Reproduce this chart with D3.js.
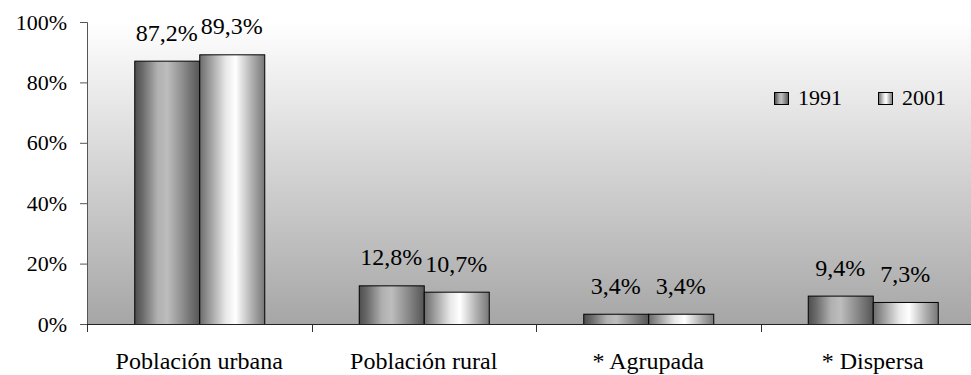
<!DOCTYPE html>
<html>
<head>
<meta charset="utf-8">
<script src="https://cdn.jsdelivr.net/npm/d3@7"></script>
<style>
  html, body { margin: 0; padding: 0; background: #fff; }
  svg { display: block; }
</style>
</head>
<body>
<svg id="chart" width="971" height="375"></svg>
<script>
// Población urbana / rural, 1991 y 2001 (porcentaje del total)
const categories = ["Población urbana", "Población rural", "* Agrupada", "* Dispersa"];
const series = ["1991", "2001"];
const values1991 = [87.2, 12.8, 3.4, 9.4];
const values2001 = [89.3, 10.7, 3.4, 7.3];
const yTicks = [0, 20, 40, 60, 80, 100];

const valuesBySeries = { "1991": values1991, "2001": values2001 };
const FONT = "Liberation Serif";

const svg = d3.select("#chart");
const plot = { left: 87, top: 22, bottom: 324, right: 985 };

// gradients
const defs = svg.append("defs");
const bg = defs.append("linearGradient").attr("id", "bgGrad")
  .attr("x1", 0).attr("y1", 0).attr("x2", 0).attr("y2", 1);
bg.append("stop").attr("offset", "0%").attr("stop-color", "#ffffff");
bg.append("stop").attr("offset", "100%").attr("stop-color", "#a6a6a6");

const barStops = {
  "1991": [[0, "#4e4e4e"], [0.12, "#6a6a6a"], [0.35, "#b0b0b0"], [0.5, "#bdbdbd"], [0.75, "#8a8a8a"], [1, "#555555"]],
  "2001": [[0, "#6c6c6c"], [0.15, "#9a9a9a"], [0.4, "#e8e8e8"], [0.55, "#ffffff"], [0.8, "#b0b0b0"], [1, "#777777"]]
};
series.forEach(s => {
  const g = defs.append("linearGradient").attr("id", "barGrad" + s)
    .attr("x1", 0).attr("y1", 0).attr("x2", 1).attr("y2", 0);
  barStops[s].forEach(([o, c]) => g.append("stop").attr("offset", o).attr("stop-color", c));
});

// scales
const x0 = d3.scaleBand().domain(categories).range([plot.left, plot.right]).padding(0);
const x1 = d3.scaleBand().domain(series)
  .range([x0.bandwidth() / 2 - 65, x0.bandwidth() / 2 + 65]).padding(0);
const y = d3.scaleLinear().domain([0, 100]).range([plot.bottom, plot.top]);

// plot area background
svg.append("rect")
  .attr("x", plot.left).attr("y", plot.top)
  .attr("width", plot.right - plot.left).attr("height", plot.bottom - plot.top)
  .attr("fill", "url(#bgGrad)");

// bars
const groups = svg.append("g").selectAll("g")
  .data(categories)
  .join("g")
  .attr("transform", d => `translate(${x0(d)},0)`);

groups.selectAll("rect")
  .data((c, i) => series.map(s => ({ s, v: valuesBySeries[s][i] })))
  .join("rect")
  .attr("x", d => x1(d.s) + 0.5)
  .attr("y", d => y(d.v) + 0.5)
  .attr("width", x1.bandwidth())
  .attr("height", d => y(0) - y(d.v))
  .attr("fill", d => `url(#barGrad${d.s})`)
  .attr("stroke", "#000")
  .attr("stroke-width", 1);

// value labels
const fmt = v => v.toFixed(1).replace(".", ",") + "%";
groups.selectAll("text")
  .data((c, i) => series.map(s => ({ s, v: valuesBySeries[s][i] })))
  .join("text")
  .attr("x", d => x1(d.s) + x1.bandwidth() / 2)
  .attr("y", d => y(d.v) - 20)
  .attr("text-anchor", "middle")
  .attr("font-family", FONT)
  .attr("font-size", 24)
  .attr("fill", "#000")
  .text(d => fmt(d.v));

// y axis
const yAxis = svg.append("g")
  .attr("transform", `translate(${plot.left},0)`)
  .call(d3.axisLeft(y).tickValues(yTicks).tickFormat(d => d + "%").tickSize(7).tickPadding(13));
yAxis.attr("font-family", FONT).attr("font-size", 22);
yAxis.selectAll("path, line").attr("stroke", "#555");
yAxis.selectAll("text").attr("fill", "#000");

// x axis: labels centered in bands, ticks at band boundaries
const xAxis = svg.append("g")
  .attr("transform", `translate(0,${plot.bottom})`)
  .call(d3.axisBottom(x0).tickSize(0).tickPadding(28));
xAxis.attr("font-family", FONT).attr("font-size", 24);
xAxis.select(".domain").remove();
xAxis.selectAll("text").attr("fill", "#000");

const boundaries = categories.map(c => x0(c)).concat([x0.range()[1]]);
svg.append("g").selectAll("line")
  .data(boundaries)
  .join("line")
  .attr("x1", d => Math.round(d) + 0.5).attr("x2", d => Math.round(d) + 0.5)
  .attr("y1", plot.bottom).attr("y2", plot.bottom + 8)
  .attr("stroke", "#333");
svg.append("line")
  .attr("x1", plot.left).attr("x2", plot.right)
  .attr("y1", plot.bottom + 0.5).attr("y2", plot.bottom + 0.5)
  .attr("stroke", "#222");

// legend
const legend = svg.append("g").attr("transform", "translate(774,92)");
const legendX = d3.scalePoint().domain(series).range([0, 104]);
const items = legend.selectAll("g").data(series).join("g")
  .attr("transform", d => `translate(${legendX(d)},0)`);
items.append("rect")
  .attr("x", 0.5).attr("y", 0.5).attr("width", 14).attr("height", 12)
  .attr("fill", d => `url(#barGrad${d})`)
  .attr("stroke", "#000");
items.append("text")
  .attr("x", 24).attr("y", 13)
  .attr("font-family", FONT)
  .attr("font-size", 22)
  .attr("fill", "#000")
  .text(d => d);
</script>
</body>
</html>
